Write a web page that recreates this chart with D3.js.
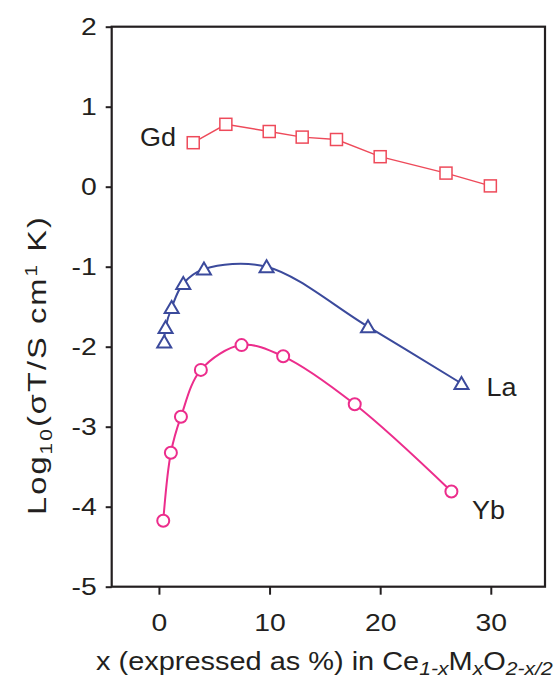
<!DOCTYPE html>
<html>
<head>
<meta charset="utf-8">
<script src="https://cdn.jsdelivr.net/npm/d3@7"></script>
<style>
    body { margin: 0; background: #fff; }
    text { font-family: "Liberation Sans", Arial, sans-serif; fill: #231f20; }
</style>
</head>
<body>
<svg id="canvas" width="560" height="681"></svg>
<script>
// values
var gdX = [3.1, 6.05, 9.97, 12.95, 16.05, 20.0, 25.95, 29.96]
var gdY = [0.55, 0.78, 0.69, 0.62, 0.59, 0.375, 0.17, 0.01]

var laX = [0.48, 0.6, 1.15, 2.2, 4.07, 9.73, 18.9, 27.35]
var laY = [-1.94, -1.76, -1.51, -1.21, -1.03, -1.0, -1.75, -2.46]

var ybX = [0.39, 1.08, 1.99, 3.79, 7.47, 11.23, 17.7, 26.44]
var ybY = [-4.175, -3.325, -2.875, -2.29, -1.98, -2.12, -2.72, -3.81]

var xTicks = [0, 10, 20, 30]
var yTicks = [2, 1, 0, -1, -2, -3, -4, -5]

var margin = {left: 111.7, top: 26.7, right: 15, bottom: 94.3}
var width = 560 - margin.left - margin.right
var height = 681 - margin.top - margin.bottom

var svg = d3.select("#canvas")
var g = svg.append("g").attr("transform", "translate(" + margin.left + "," + margin.top + ")")

var xScale = d3.scaleLinear().domain([-4.27, 34.9]).range([0, width])
var yScale = d3.scaleLinear().domain([-5, 2]).range([height, 0])

function zip(xs, ys)
{
    return xs.map(function(x, i){ return {x: x, y: ys[i]} })
}

// frame
g.append("rect")
    .attr("width", width)
    .attr("height", height)
    .attr("fill", "none")
    .attr("stroke", "#231f20")
    .attr("stroke-width", 2.2)

var xAxis = g.append("g")
    .attr("transform", "translate(0," + height + ")")
    .call(d3.axisBottom(xScale).tickValues(xTicks).tickSize(8).tickPadding(19))
var yAxis = g.append("g")
    .call(d3.axisLeft(yScale).tickValues(yTicks).tickSize(6).tickPadding(9).tickFormat(d3.format("d")))

xAxis.select(".domain").remove()
yAxis.select(".domain").remove()
svg.selectAll(".tick line").attr("stroke", "#231f20").attr("stroke-width", 2)
svg.selectAll(".tick text").attr("font-size", 24).attr("fill", "#231f20")
    .style("font-family", "'Liberation Sans', Arial, sans-serif")
// the figure's lettering is a little wider than Arial
xAxis.selectAll(".tick text").attr("transform", "scale(1.18,1)")
yAxis.selectAll(".tick text")
    .attr("x", 0)
    .attr("transform", "translate(-15,0) scale(1.18,1)")
    .text(function(d){ return d < 0 ? "-" + Math.abs(d) : d })

var line = d3.line()
    .x(function(d){ return xScale(d.x) })
    .y(function(d){ return yScale(d.y) })

// Gd
var gdColor = "#ee4a5a"
g.append("path")
    .datum(zip(gdX, gdY))
    .attr("d", line)
    .attr("fill", "none")
    .attr("stroke", gdColor)
    .attr("stroke-width", 1.4)
g.selectAll(".gd")
    .data(zip(gdX, gdY))
    .enter()
    .append("rect")
    .attr("class", "gd")
    .attr("x", function(d){ return xScale(d.x) - 6 })
    .attr("y", function(d){ return yScale(d.y) - 6 })
    .attr("width", 12)
    .attr("height", 12)
    .attr("fill", "#fff")
    .attr("stroke", gdColor)
    .attr("stroke-width", 1.5)

// La
var laColor = "#3b4a9c"
g.append("path")
    .datum(zip(laX, laY))
    .attr("d", line.curve(d3.curveCatmullRom.alpha(0.5)))
    .attr("fill", "none")
    .attr("stroke", laColor)
    .attr("stroke-width", 2)
g.selectAll(".la")
    .data(zip(laX, laY))
    .enter()
    .append("path")
    .attr("class", "la")
    .attr("transform", function(d){ return "translate(" + xScale(d.x) + "," + yScale(d.y) + ")" })
    .attr("d", "M0,-6.5L7,5.5L-7,5.5Z")
    .attr("fill", "#fff")
    .attr("stroke", laColor)
    .attr("stroke-width", 2)

// Yb
var ybColor = "#ec2d8c"
g.append("path")
    .datum(zip(ybX, ybY))
    .attr("d", line.curve(d3.curveCatmullRom.alpha(0.5)))
    .attr("fill", "none")
    .attr("stroke", ybColor)
    .attr("stroke-width", 2)
g.selectAll(".yb")
    .data(zip(ybX, ybY))
    .enter()
    .append("circle")
    .attr("class", "yb")
    .attr("cx", function(d){ return xScale(d.x) })
    .attr("cy", function(d){ return yScale(d.y) })
    .attr("r", 6)
    .attr("fill", "#fff")
    .attr("stroke", ybColor)
    .attr("stroke-width", 2)

// series labels
var labels = [
    {text: "Gd", x: 158, y: 146},
    {text: "La", x: 501.5, y: 396},
    {text: "Yb", x: 488.5, y: 519}
]
svg.selectAll(".lbl")
    .data(labels)
    .enter()
    .append("text")
    .attr("class", "lbl")
    .attr("transform", function(d){ return "translate(" + d.x + "," + d.y + ") scale(1.08,1)" })
    .attr("text-anchor", "middle")
    .attr("font-size", 25)
    .text(function(d){ return d.text })

// axis titles
var yt = svg.append("text")
    .attr("text-anchor", "middle")
    .attr("font-size", 25)
    .attr("letter-spacing", 1.6)
yt.append("tspan").text("Log")
yt.append("tspan").attr("font-size", 16).attr("dy", 6).text("10")
yt.append("tspan").attr("dy", -6).text("(σT/S cm")
yt.append("tspan").attr("font-size", 16).attr("dy", -9).text("1")
yt.append("tspan").attr("dy", 9).text(" K)")
// stretch it to the length it has in the figure
var ytLen = yt.node().getComputedTextLength()
yt.attr("transform", "translate(46,365) rotate(-90) scale(" + (300 / ytLen) + ",1)")

var xt = svg.append("text")
    .attr("font-size", 26)
xt.append("tspan").text("x (expressed as %) in Ce")
xt.append("tspan").attr("font-size", 19).attr("font-style", "italic").attr("dy", 5).text("1-x")
xt.append("tspan").attr("dy", -5).text("M")
xt.append("tspan").attr("font-size", 19).attr("font-style", "italic").attr("dy", 5).text("x")
xt.append("tspan").attr("dy", -5).text("O")
xt.append("tspan").attr("font-size", 19).attr("font-style", "italic").attr("dy", 5).text("2-x/2")
var xtLen = xt.node().getComputedTextLength()
xt.attr("transform", "translate(96,670) scale(" + (457 / xtLen) + ",1)")
</script>
</body>
</html>
